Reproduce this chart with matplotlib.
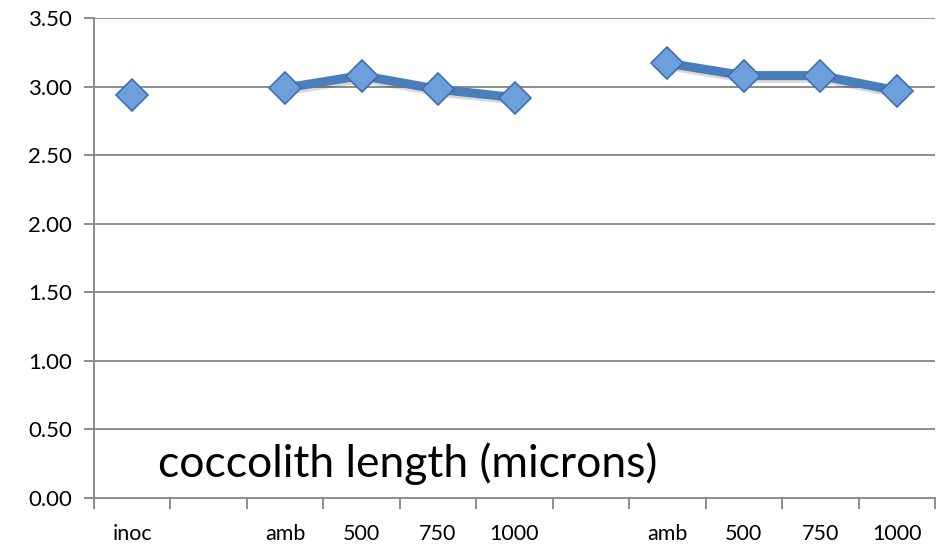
import matplotlib
matplotlib.use("Agg")
import matplotlib.pyplot as plt
import matplotlib.patheffects as pe
import numpy as np

plt.rcParams['font.family'] = ['Lato', 'DejaVu Sans']

# categories along the x axis (blank slots separate the groups)
categories = ['inoc', '', 'amb', '500', '750', '1000', '', 'amb', '500', '750', '1000']
length_um = [2.94, np.nan, 2.99, 3.08, 2.98, 2.92, np.nan, 3.17, 3.08, 3.08, 2.97]
yticks = [0.0, 0.5, 1.0, 1.5, 2.0, 2.5, 3.0, 3.5]

fig = plt.figure(figsize=(9.4, 5.47), dpi=100)
ax = fig.add_axes([0.1, 0.0896, 0.8947, 0.8775])

x = np.arange(len(categories))
ax.plot(x, length_um, color='#4a7ebb', lw=6.5, solid_joinstyle='round',
        solid_capstyle='round', zorder=3,
        path_effects=[pe.SimpleLineShadow(offset=(1, -2), alpha=0.15), pe.Normal()])
ax.plot(x, length_um, ls='none', marker='D', markersize=16,
        markerfacecolor='#6c9fdc', markeredgecolor='#3e6fae',
        markeredgewidth=1.2, zorder=4)

ax.set_xlim(-0.5, len(categories) - 0.5)
ax.set_ylim(0, 3.5)
ax.set_yticks(yticks)
ax.set_yticklabels(['%.2f' % v for v in yticks], fontsize=16)
ax.yaxis.grid(True, color='#8c8c8c', lw=1.4)
ax.set_axisbelow(True)

# labels at category centres, tick marks on category boundaries
ax.set_xticks(x)
ax.set_xticklabels(categories, fontsize=15.5)
ax.set_xticks(np.arange(-0.5, len(categories)), minor=True)
ax.tick_params(axis='x', which='major', length=0, pad=19)
ax.tick_params(axis='x', which='minor', length=8, width=1.4, color='#8c8c8c', direction='out')
ax.tick_params(axis='y', length=7, width=1.4, color='#8c8c8c', pad=9)

for side in ['top', 'right']:
    ax.spines[side].set_visible(False)
for side in ['left', 'bottom']:
    ax.spines[side].set_color('#8c8c8c')
    ax.spines[side].set_linewidth(1.4)

ax.text(0.337, 0.25, 'coccolith length (microns)', fontsize=32, va='center', ha='left')

fig.savefig('out.png', dpi=100)
